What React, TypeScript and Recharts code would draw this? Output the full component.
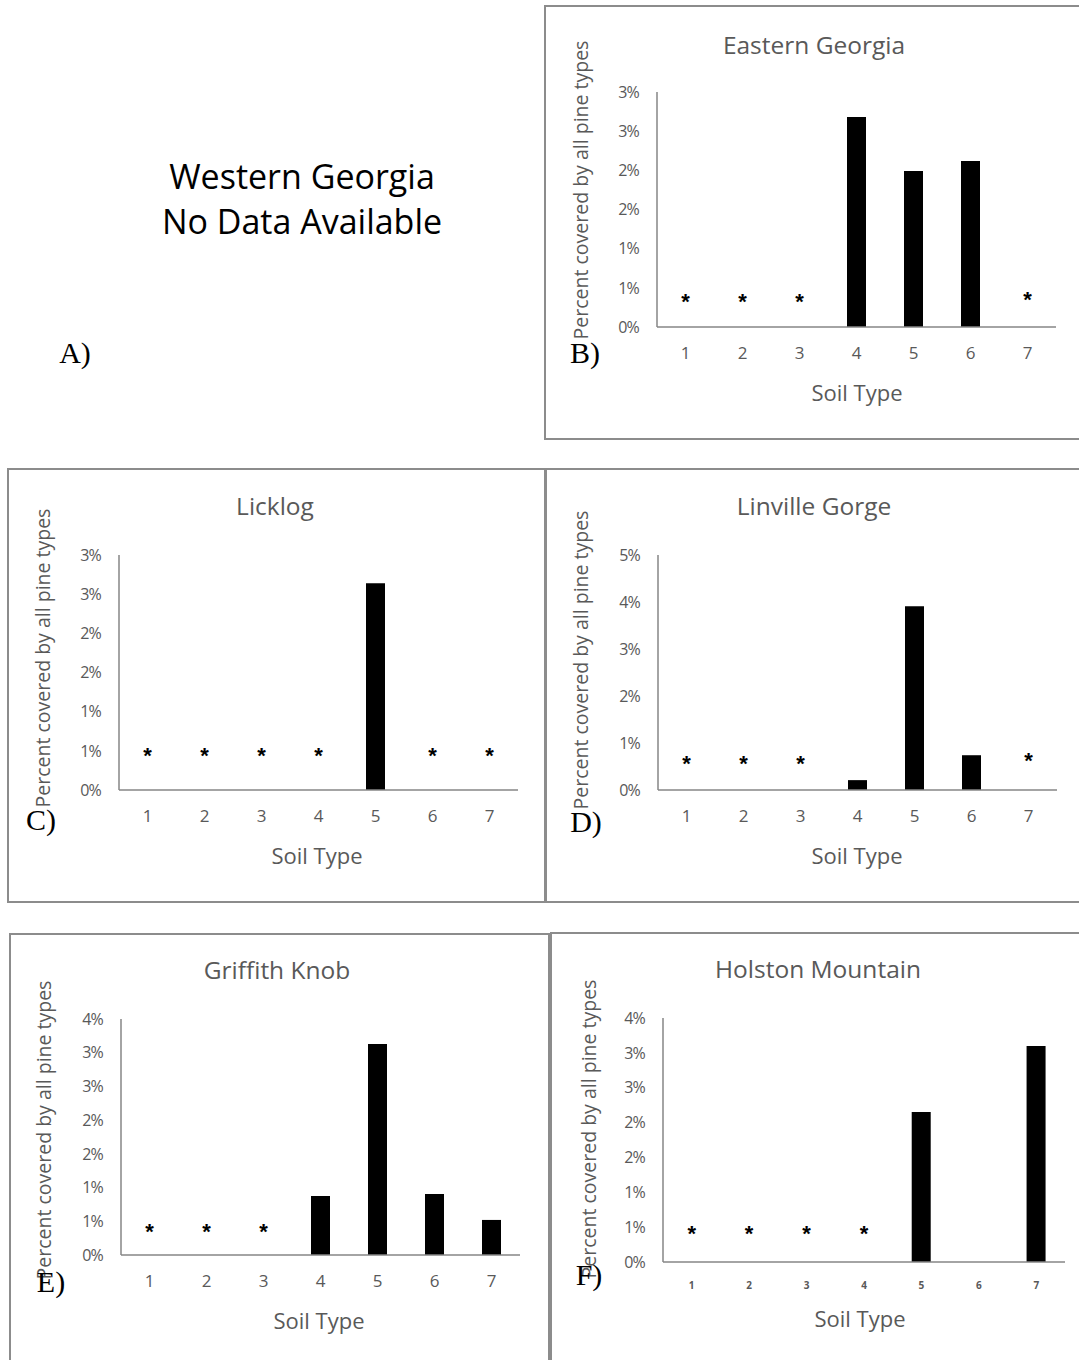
import React from "react";
import { ComposedChart, Bar, Scatter, XAxis, YAxis } from "recharts";

// Soil type categories shared by every panel
const soilTypes = ["1", "2", "3", "4", "5", "6", "7"];

// Percent covered by all pine types (null = no bar drawn)
const easternGeorgia = [null, null, null, 2.68, 1.99, 2.12, null];
const licklog = [null, null, null, null, 2.64, null, null];
const linvilleGorge = [null, null, null, 0.21, 3.91, 0.74, null];
const griffithKnob = [null, null, null, 0.875, 3.13, 0.905, 0.52];
const holstonMountain = [null, null, null, null, 2.15, null, 3.1];

// Height of the "*" markers (soil type present, no pine cover)
const easternGeorgiaStars = [0.37, 0.37, 0.37, null, null, null, 0.4];
const licklogStars = [0.49, 0.49, 0.49, 0.49, null, 0.49, 0.49];
const linvilleGorgeStars = [0.64, 0.64, 0.64, null, null, null, 0.7];
const griffithKnobStars = [0.4, 0.4, 0.4, null, null, null, null];
const holstonMountainStars = [0.46, 0.46, 0.46, 0.46, null, null, null];

// Y ticks (Excel rounds the labels to whole percents)
const ticksTo3 = [0, 0.5, 1, 1.5, 2, 2.5, 3];
const ticksTo35 = [0, 0.5, 1, 1.5, 2, 2.5, 3, 3.5];
const ticksTo5 = [0, 1, 2, 3, 4, 5];

const FONT = "'Open Sans', 'Liberation Sans', sans-serif";
const SERIF = "'Liberation Serif', 'Times New Roman', serif";
const GREY_TEXT = "#595959";
const AXIS_GREY = "#868686";
const BORDER = "2px solid #8c8c8c";

type Box = { left: number; top: number; width: number; height: number };
type Plot = { left: number; top: number; right: number; bottom: number };

type PanelProps = {
    title: string;
    letter: string;
    values: (number | null)[];
    stars: (number | null)[];
    ticks: number[];
    box: Box;
    plot: Plot;
    titleAt: [number, number];
    yLabelAt: [number, number];
    xLabelAt: [number, number];
    letterAt: [number, number];
    xTickSize?: number;
};

const StarMark = (props: any) => {
    const { cx, cy, payload } = props;
    if (!payload || payload.star == null || cx == null || cy == null) return <g />;
    return (
        <text
            x={cx}
            y={cy + 11}
            textAnchor="middle"
            fontSize={22}
            fontWeight="bold"
            fontFamily="'Liberation Sans', sans-serif"
            fill="#000"
        >
            *
        </text>
    );
};

// Axis title at page coordinates (shifted into the chart svg)
const FixedLabel = (props: any) => {
    const { px, py, txt, rot, size } = props;
    return (
        <text
            x={px}
            y={py}
            textAnchor="middle"
            dominantBaseline="central"
            transform={rot ? `rotate(-90, ${px}, ${py})` : undefined}
            fontSize={size}
            fontFamily={FONT}
            fill={GREY_TEXT}
        >
            {txt}
        </text>
    );
};

function Panel(p: PanelProps) {
    const { box, plot } = p;
    const X_AXIS_H = 60;
    const data = soilTypes.map((s, i) => ({
        soil: s,
        value: p.values[i],
        star: p.stars[i],
    }));
    const margin = {
        top: plot.top - box.top,
        right: box.left + box.width - plot.right,
        left: 0,
        bottom: box.top + box.height - plot.bottom - X_AXIS_H,
    };

    return (
        <>
            <div
                style={{
                    position: "absolute",
                    left: box.left,
                    top: box.top,
                    width: box.width,
                    height: box.height,
                    border: BORDER,
                    boxSizing: "border-box",
                    background: "#fff",
                }}
            />
            <div
                style={{
                    position: "absolute",
                    left: box.left,
                    top: box.top,
                    width: box.width,
                    height: box.height,
                }}
            >
                <ComposedChart width={box.width} height={box.height} data={data} margin={margin}>
                    <XAxis
                        dataKey="soil"
                        height={X_AXIS_H}
                        tickLine={false}
                        tickSize={0}
                        tickMargin={20}
                        axisLine={{ stroke: AXIS_GREY, strokeWidth: 1.5 }}
                        tick={{
                            fontSize: p.xTickSize ?? 17,
                            fill: GREY_TEXT,
                            fontFamily: FONT,
                            fontWeight: p.xTickSize ? 700 : 400,
                        }}
                        label={
                            <FixedLabel
                                px={p.xLabelAt[0] - box.left}
                                py={p.xLabelAt[1] - box.top}
                                txt="Soil Type"
                                size={22}
                            />
                        }
                    />
                    <YAxis
                        width={plot.left - box.left}
                        domain={[p.ticks[0], p.ticks[p.ticks.length - 1]]}
                        ticks={p.ticks}
                        interval={0}
                        tickLine={false}
                        tickSize={0}
                        tickMargin={18}
                        axisLine={{ stroke: AXIS_GREY, strokeWidth: 1.5 }}
                        tickFormatter={(v: number) => `${Math.round(v)}%`}
                        tick={{ fontSize: 16, fill: GREY_TEXT, fontFamily: FONT, letterSpacing: -0.8 }}
                        label={
                            <FixedLabel
                                px={p.yLabelAt[0] - box.left}
                                py={p.yLabelAt[1] - box.top}
                                txt="Percent covered by all pine types"
                                size={19.5}
                                rot
                            />
                        }
                    />
                    <Bar dataKey="value" fill="#000" barSize={19} isAnimationActive={false} />
                    <Scatter dataKey="star" shape={StarMark} isAnimationActive={false} />
                </ComposedChart>
            </div>
            <div
                style={{
                    position: "absolute",
                    left: p.titleAt[0] - 200,
                    top: p.titleAt[1] - 16,
                    width: 400,
                    textAlign: "center",
                    fontFamily: FONT,
                    fontSize: 24.5,
                    lineHeight: "32px",
                    color: GREY_TEXT,
                }}
            >
                {p.title}
            </div>
            <div
                style={{
                    position: "absolute",
                    left: p.letterAt[0] - 30,
                    top: p.letterAt[1] - 17,
                    width: 60,
                    textAlign: "center",
                    fontFamily: SERIF,
                    fontSize: 30,
                    lineHeight: "34px",
                    color: "#000",
                }}
            >
                {p.letter}
            </div>
        </>
    );
}

export default function App() {
    return (
        <div
            style={{
                position: "absolute",
                left: 0,
                top: 0,
                width: 1079,
                height: 1360,
                overflow: "hidden",
                background: "#fff",
            }}
        >
            {/* Panel A: no chart, just a note */}
            <div
                style={{
                    position: "absolute",
                    left: 102,
                    top: 154,
                    width: 400,
                    textAlign: "center",
                    fontFamily: FONT,
                    fontSize: 34,
                    lineHeight: "45px",
                    color: "#000",
                }}
            >
                Western Georgia
                <br />
                No Data Available
            </div>
            <div
                style={{
                    position: "absolute",
                    left: 45,
                    top: 336,
                    width: 60,
                    textAlign: "center",
                    fontFamily: SERIF,
                    fontSize: 30,
                    lineHeight: "34px",
                }}
            >
                A)
            </div>

            <Panel
                title="Eastern Georgia"
                letter="B)"
                values={easternGeorgia}
                stars={easternGeorgiaStars}
                ticks={ticksTo3}
                box={{ left: 544, top: 5, width: 545, height: 435 }}
                plot={{ left: 657, top: 92, right: 1056, bottom: 327 }}
                titleAt={[814, 45]}
                yLabelAt={[580, 190]}
                xLabelAt={[857, 392]}
                letterAt={[585, 353]}
            />
            <Panel
                title="Licklog"
                letter="C)"
                values={licklog}
                stars={licklogStars}
                ticks={ticksTo3}
                box={{ left: 7, top: 468, width: 539, height: 435 }}
                plot={{ left: 119, top: 555, right: 518, bottom: 790 }}
                titleAt={[275, 506]}
                yLabelAt={[42, 658]}
                xLabelAt={[317, 855]}
                letterAt={[41, 820]}
            />
            <Panel
                title="Linville Gorge"
                letter="D)"
                values={linvilleGorge}
                stars={linvilleGorgeStars}
                ticks={ticksTo5}
                box={{ left: 545, top: 468, width: 545, height: 435 }}
                plot={{ left: 658, top: 555, right: 1057, bottom: 790 }}
                titleAt={[814, 506]}
                yLabelAt={[580, 660]}
                xLabelAt={[857, 855]}
                letterAt={[586, 822]}
            />
            <Panel
                title="Griffith Knob"
                letter="E)"
                values={griffithKnob}
                stars={griffithKnobStars}
                ticks={ticksTo35}
                box={{ left: 9, top: 933, width: 541, height: 440 }}
                plot={{ left: 121, top: 1019, right: 520, bottom: 1255 }}
                titleAt={[277, 970]}
                yLabelAt={[43, 1130]}
                xLabelAt={[319, 1320]}
                letterAt={[51, 1282]}
            />
            <Panel
                title="Holston Mountain"
                letter="F)"
                values={holstonMountain}
                stars={holstonMountainStars}
                ticks={ticksTo35}
                box={{ left: 550, top: 932, width: 545, height: 440 }}
                plot={{ left: 663, top: 1018, right: 1065, bottom: 1262 }}
                titleAt={[818, 969]}
                yLabelAt={[588, 1129]}
                xLabelAt={[860, 1318]}
                letterAt={[589, 1275]}
                xTickSize={10}
            />
        </div>
    );
}
